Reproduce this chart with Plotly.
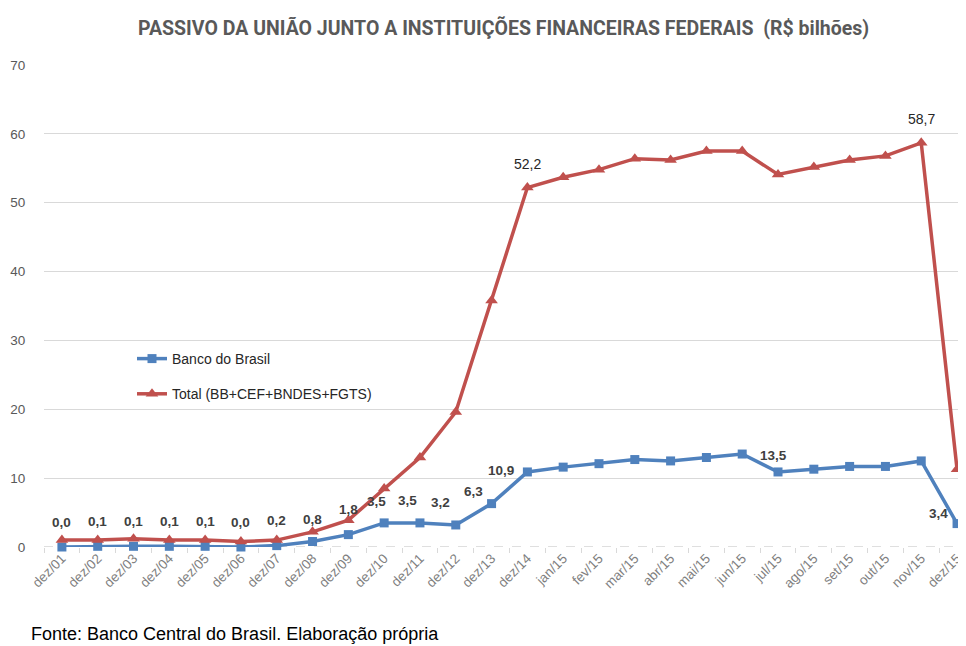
import plotly.graph_objects as go

categories = ["dez/01", "dez/02", "dez/03", "dez/04", "dez/05", "dez/06", "dez/07",
              "dez/08", "dez/09", "dez/10", "dez/11", "dez/12", "dez/13", "dez/14",
              "jan/15", "fev/15", "mar/15", "abr/15", "mai/15", "jun/15", "jul/15",
              "ago/15", "set/15", "out/15", "nov/15", "dez/15"]

banco_do_brasil = [0.0, 0.1, 0.1, 0.1, 0.1, 0.0, 0.2, 0.8, 1.8, 3.5, 3.5, 3.2, 6.3, 10.9,
                   11.6, 12.1, 12.7, 12.5, 13.0, 13.5, 10.9, 11.3, 11.7, 11.7, 12.5, 3.4]

total = [1.0, 1.0, 1.2, 1.0, 1.0, 0.8, 1.0, 2.2, 3.9, 8.5, 13.0, 19.6, 35.8, 52.2,
         53.7, 54.8, 56.4, 56.2, 57.5, 57.5, 54.1, 55.2, 56.2, 56.8, 58.7, 11.3]

bb_labeled = ["dez/01", "dez/02", "dez/03", "dez/04", "dez/05", "dez/06", "dez/07",
              "dez/08", "dez/09", "dez/10", "dez/11", "dez/12", "dez/13", "dez/14",
              "jun/15", "dez/15"]
total_labeled = ["dez/14", "nov/15"]

# label offsets in pixels (style only)
bb_offsets = {"dez/08": (0, 22), "dez/10": (-8, 21), "dez/11": (-12, 22),
              "dez/12": (-15, 22), "dez/13": (-18, 12), "dez/14": (-26, 1),
              "jun/15": (31, -1), "dez/15": (-19, 10)}

BLUE = "#4F81BD"
RED = "#C0504D"

# the page body has an 8px margin; figure is sized so its right/bottom edges meet the window
PLOT_L, PLOT_T, PLOT_W, PLOT_H = 44, 65, 922, 482
OFF = 8

def fmt(v):
    return f"{v:.1f}".replace(".", ",")

fig = go.Figure()
fig.add_trace(go.Scatter(
    x=categories, y=banco_do_brasil, name="Banco do Brasil",
    mode="lines+markers", line=dict(color=BLUE, width=3.5),
    marker=dict(symbol="square", size=9, color=BLUE),
    legendgroup="a", cliponaxis=False))
fig.add_trace(go.Scatter(
    x=categories, y=total, name="Total (BB+CEF+BNDES+FGTS)",
    mode="lines+markers", line=dict(color=RED, width=3.5),
    marker=dict(symbol="triangle-up", size=11, color=RED),
    legendgroup="b", cliponaxis=False))

annotations = []
for c in bb_labeled:
    i = categories.index(c)
    dx, dy = bb_offsets.get(c, (0, 25))
    annotations.append(dict(x=c, y=banco_do_brasil[i], text=fmt(banco_do_brasil[i]),
                            showarrow=False, xshift=dx, yshift=dy,
                            font=dict(family="Liberation Sans", size=13.5, color="#404040",
                                      weight="bold")))
for c in total_labeled:
    i = categories.index(c)
    annotations.append(dict(x=c, y=total[i], text=fmt(total[i]),
                            showarrow=False, yshift=24,
                            font=dict(family="Liberation Sans", size=14, color="#262626")))

def px(x):
    return (x - PLOT_L) / PLOT_W

def py(y):
    return (PLOT_T + PLOT_H - y) / PLOT_H

annotations.append(dict(xref="paper", yref="paper", x=px(503), y=py(28),
                        text="<b>PASSIVO DA UNIÃO JUNTO A INSTITUIÇÕES FINANCEIRAS FEDERAIS  (R$ bilhões)</b>",
                        showarrow=False, xanchor="center", yanchor="middle",
                        font=dict(family="Roboto", size=19.5, color="#595959")))
annotations.append(dict(xref="paper", yref="paper", x=px(29), y=py(634),
                        text="Fonte: Banco Central do Brasil. Elaboração própria",
                        showarrow=False, xanchor="left", yanchor="middle",
                        font=dict(family="Liberation Sans", size=18, color="#000000")))

fig.update_layout(
    width=966 - OFF, height=646 - OFF,
    margin=dict(l=PLOT_L - OFF, r=0, t=PLOT_T - OFF, b=646 - (PLOT_T + PLOT_H)),
    paper_bgcolor="white", plot_bgcolor="white",
    showlegend=True,
    legend=dict(x=px(132), y=py(343), xanchor="left", yanchor="top",
                bgcolor="rgba(0,0,0,0)", tracegroupgap=14,
                font=dict(family="Liberation Sans", size=14, color="#262626")),
    annotations=annotations,
    shapes=[dict(type="line", xref="paper", yref="y", x0=0, x1=1, y0=0, y1=0,
                 line=dict(color="#BFBFBF", width=1.2, dash="dash"), layer="below")],
    xaxis=dict(type="category", range=[-0.5, 25.25], showgrid=False, showline=False,
               zeroline=False, ticks="outside", tickson="boundaries", ticklen=5,
               tickcolor="#D9D9D9", tickangle=-45, automargin=False,
               tickfont=dict(family="Liberation Sans", size=13.5, color="#7F7F7F")),
    yaxis=dict(range=[0, 70], dtick=10, showgrid=True, gridcolor="#D9D9D9", gridwidth=1.3,
               zeroline=False, showline=False, ticks="outside", ticklen=15,
               tickcolor="rgba(0,0,0,0)", automargin=False,
               tickfont=dict(family="Liberation Sans", size=13.5, color="#595959")),
)

fig.write_html("out.html")
